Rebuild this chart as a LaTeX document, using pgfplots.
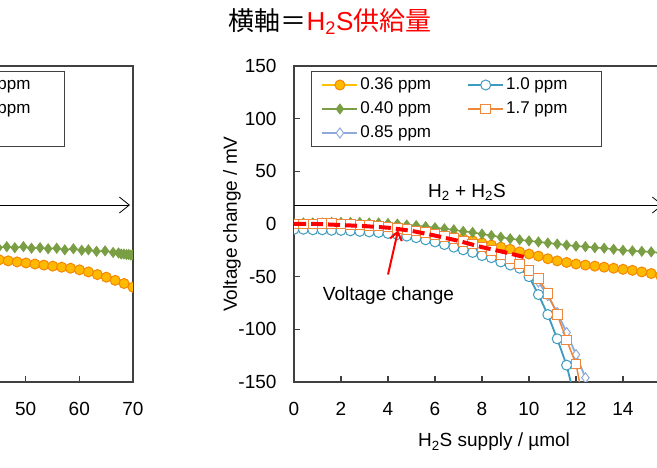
\documentclass[border=0pt]{standalone}
\usepackage{fontspec}
\setmainfont{Liberation Sans}
\newfontfamily\cjk{Noto Sans CJK JP}
\usepackage{pgfplots}
\pgfplotsset{compat=1.18}
\usetikzlibrary{arrows.meta}
\definecolor{cOrF}{RGB}{255,186,0}
\definecolor{cOrE}{RGB}{245,135,0}
\definecolor{cOrL}{RGB}{255,192,0}
\definecolor{cGr}{RGB}{122,158,68}
\definecolor{cLb}{RGB}{142,169,219}
\definecolor{cTe}{RGB}{60,155,190}
\definecolor{cSq}{RGB}{237,135,60}
\definecolor{cAx}{RGB}{64,64,64}
\pgfplotsset{
  myaxis/.style={
    scale only axis, width=376pt, height=316pt,
    ymin=-150, ymax=150, ytick={-150,-100,...,150},
    clip marker paths=true,
    axis line style={cAx, line width=1.2pt},
    tick style={cAx, line width=1.2pt},
    tick align=inside, tick pos=left, major tick length=6pt,
    /pgf/number format/assume math mode=true,
    tick label style={font=\fontsize{19}{22}\selectfont, color=black},
    yticklabel style={xshift=-14pt},
    xticklabel style={yshift=-17pt},
    label style={font=\fontsize{19}{22}\selectfont},
    legend columns=2,
    legend style={at={(17/376,1-5/316)}, anchor=north west, draw=cAx, line width=1pt,
      inner xsep=10pt, inner ysep=3pt, font=\fontsize{17}{20}\selectfont,
      nodes={inner sep=2pt, text height=13pt, text depth=4pt},
      column sep=0pt, /tikz/column 2/.style={column sep=22pt}, row sep=3pt},
    legend cell align=left,
    legend image code/.code={\draw[mark repeat=2,mark phase=2,##1] plot coordinates {(0pt,0pt) (17.5pt,0pt) (35pt,0pt)};},
  },
  s036/.style={color=cOrL, line width=1.5pt, mark=*, mark size=5pt, mark options={solid, fill=cOrF, draw=cOrE, line width=1pt}},
  s040/.style={color=cGr, line width=1.5pt, mark=diamond*, mark size=5pt, mark options={solid, fill=cGr, draw=cGr, line width=0.8pt}},
  s085/.style={color=cLb, line width=1.8pt, mark=diamond*, mark size=5pt, mark options={solid, fill=white, draw=cLb, line width=1pt}},
  s100/.style={color=cTe, line width=1.8pt, mark=*, mark size=5pt, mark options={solid, fill=white, draw=cTe, line width=1pt}},
  s170/.style={color=cSq, line width=1.5pt, mark=square*, mark size=4.8pt, mark options={solid, fill=white, draw=cSq, line width=1pt}},
}
\begin{document}
\begin{tikzpicture}
\path[use as bounding box] (0pt,0pt) rectangle (657pt,468pt);
\clip (0pt,0pt) rectangle (657pt,468pt);
\node[anchor=center] at (330pt,446pt) {\fontsize{26}{30}\selectfont{\cjk 横軸＝}{\color{red}H\textsubscript{2}S{\cjk 供給量}}};

% ---------------- left axis (partly visible) ----------------
\begin{axis}[myaxis, at={(133pt,86pt)}, anchor=south east, xmin=0, xmax=70, xtick={0,10,...,70}]
\addplot[s036, forget plot] coordinates {
(41.78,-33) (43.44,-33.5) (45.1,-34) (46.76,-35) (48.42,-36) (50.08,-37) (51.74,-38)
(53.4,-39) (55.06,-40) (56.72,-41) (58.38,-42) (60.04,-43.5) (61.7,-45.5) (63.36,-48)
(65.02,-50.5) (66.68,-53.5) (68.34,-56.5) (70,-60)};
\addplot[s040, forget plot] coordinates {
(43.4,-21.5) (44.95,-22.5) (46.5,-21.5) (48.0,-22.5) (49.6,-21.5) (51.1,-23) (52.7,-22.5)
(54.2,-23.5) (55.8,-23) (57.3,-24.5) (58.9,-23.5) (60.45,-25) (61.7,-24.5) (63.2,-26)
(64.8,-25.5) (66.3,-27) (67.3,-27.5) (67.8,-28.5) (68.3,-28.5) (68.8,-29) (69.2,-29)
(69.6,-29.5) (70,-29.5)};
\draw[black, line width=0.8pt, -{Straight Barb[length=10pt,width=16pt]}] (axis cs:0,18) -- (axis cs:69.44,18);
\addlegendimage{s036}\addlegendentry{\makebox[83pt][l]{0.36 ppm}}
\addlegendimage{s100}\addlegendentry{\makebox[83pt][l]{1.0 ppm}}
\addlegendimage{s040}\addlegendentry{\makebox[83pt][l]{0.40 ppm}}
\addlegendimage{s170}\addlegendentry{\makebox[83pt][l]{1.7 ppm}}
\addlegendimage{s085}\addlegendentry{\makebox[83pt][l]{0.85 ppm}}
\end{axis}

% ---------------- right axis ----------------
\begin{axis}[myaxis, at={(294pt,86pt)}, anchor=south west, xmin=0, xmax=16, xtick={0,2,...,16},
  xlabel={H\textsubscript{2}S supply / µmol}, ylabel={Voltage change / mV},
  xlabel style={at={(axis description cs:0.532,-0.19)}, anchor=center},
  ylabel style={at={(axis description cs:-0.165,0.5)}, anchor=center}]
\addplot[s036, forget plot] coordinates {
(0,0) (0.4,0) (0.8,0) (1.2,0) (1.6,-0.5) (2.0,-0.5) (2.4,-1) (2.8,-1.5) (3.2,-2) (3.6,-2.5)
(4.0,-3) (4.4,-4) (4.8,-5) (5.2,-6) (5.6,-7.5) (6.0,-9) (6.4,-10.5) (6.8,-12) (7.2,-14)
(7.6,-16) (8.0,-18) (8.4,-20) (8.8,-22) (9.2,-24) (9.6,-26.5) (10.0,-28.5) (10.4,-30.5)
(10.8,-33) (11.2,-35) (11.6,-36.5) (12.0,-38) (12.4,-39) (12.8,-40) (13.2,-41) (13.6,-42)
(14.0,-43) (14.4,-44) (14.8,-45.5) (15.2,-47) (15.6,-49) (16.0,-51)};
\addplot[s040, forget plot] coordinates {
(0,0) (0.4,1) (0.8,1) (1.2,1) (1.6,1.5) (2.0,1.5) (2.4,1.5) (2.8,1.5) (3.2,1) (3.6,1)
(4.0,0.5) (4.4,0) (4.8,-1) (5.2,-1.5) (5.6,-2.5) (6.0,-3.5) (6.4,-4.5) (6.8,-5.5) (7.2,-7)
(7.6,-8) (8.0,-9.5) (8.4,-11) (8.8,-12.5) (9.2,-14) (9.6,-15) (10.0,-16) (10.4,-17)
(10.8,-18) (11.2,-19) (11.6,-20) (12.0,-21) (12.4,-21.5) (12.8,-22.5) (13.2,-23) (13.6,-24)
(14.0,-25) (14.4,-25.5) (14.8,-26) (15.2,-26.5) (15.6,-27.5) (16.0,-28)};
\addplot[s085, forget plot] coordinates {
(0,-1) (0.4,-1) (0.8,-1) (1.2,-1.5) (1.6,-1.5) (2.0,-2) (2.4,-2.5) (2.8,-3) (3.2,-3.5)
(3.6,-4.5) (4.0,-5.5) (4.4,-6.5) (4.8,-8) (5.2,-9.5) (5.6,-11) (6.0,-13) (6.4,-15) (6.8,-17)
(7.2,-19.5) (7.6,-22) (8.0,-24.5) (8.4,-27.5) (8.8,-31) (9.2,-35) (9.6,-39) (10.0,-45)
(10.4,-55) (10.8,-68) (11.2,-84) (11.6,-103) (12.0,-124) (12.4,-146) (12.8,-170)};
\addplot[s100, forget plot] coordinates {
(0,-5) (0.4,-5) (0.8,-5.5) (1.2,-5.5) (1.6,-6) (2.0,-6) (2.4,-6.5) (2.8,-7) (3.2,-7.5)
(3.6,-8) (4.0,-9) (4.4,-10) (4.8,-11.5) (5.2,-13) (5.6,-15) (6.0,-17) (6.4,-19.5) (6.8,-22)
(7.2,-24.5) (7.6,-27) (8.0,-30) (8.4,-32) (8.8,-36) (9.2,-39) (9.6,-42) (10.0,-50)
(10.4,-67) (10.8,-86) (11.2,-109) (11.6,-134) (12.0,-170)};
\addplot[s170, forget plot] coordinates {
(0,0) (0.4,0) (0.8,0) (1.2,0.5) (1.6,0.5) (2.0,0) (2.4,-0.5) (2.8,-1) (3.2,-1.5) (3.6,-2)
(4.0,-3) (4.4,-4) (4.8,-5) (5.2,-6.5) (5.6,-8) (6.0,-10) (6.4,-12) (6.8,-14) (7.2,-16.5)
(7.6,-19) (8.0,-22) (8.4,-25) (8.8,-29) (9.2,-33) (9.6,-38) (10.0,-44) (10.4,-52)
(10.8,-66) (11.2,-86) (11.6,-110) (12.0,-133) (12.4,-178)};
\addplot[red, line width=4pt, dash pattern=on 12pt off 5pt, forget plot] coordinates {
(0,0) (1,0) (2,-1) (3,-2) (4,-3.5) (5,-6.5) (6,-11) (7,-16) (8,-22) (9,-27) (9.9,-32)};
\draw[black, line width=0.8pt, -{Straight Barb[length=10pt,width=16pt]}] (axis cs:0,18) -- (axis cs:15.7,18);
\node[anchor=base, font=\fontsize{19}{22}\selectfont] at (axis cs:7.36,25.6) {H\textsubscript{2} + H\textsubscript{2}S};
\node[anchor=base, font=\fontsize{19}{22}\selectfont] at (axis cs:4.02,-72.2) {Voltage change};
\draw[red, line width=2pt, -{Straight Barb[length=8pt,width=12pt]}] (axis cs:4.0,-48) -- (axis cs:4.43,-6);
\addlegendimage{s036}\addlegendentry{\makebox[83pt][l]{0.36 ppm}}
\addlegendimage{s100}\addlegendentry{\makebox[83pt][l]{1.0 ppm}}
\addlegendimage{s040}\addlegendentry{\makebox[83pt][l]{0.40 ppm}}
\addlegendimage{s170}\addlegendentry{\makebox[83pt][l]{1.7 ppm}}
\addlegendimage{s085}\addlegendentry{\makebox[83pt][l]{0.85 ppm}}
\end{axis}
\end{tikzpicture}
\end{document}
